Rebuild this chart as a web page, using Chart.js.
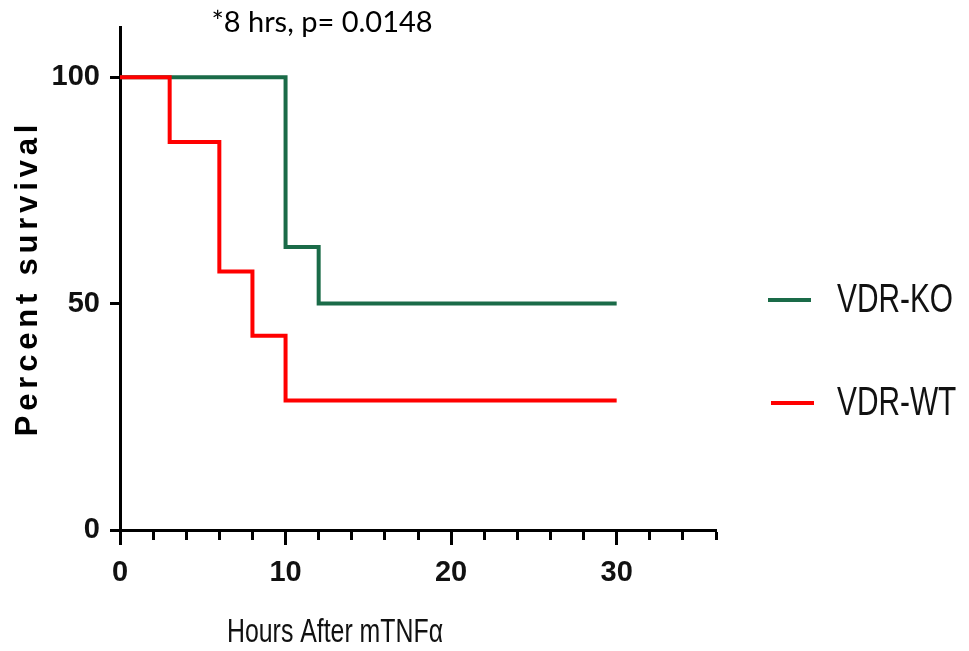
<!DOCTYPE html>
<html>
<head>
<meta charset="utf-8">
<script src="https://cdn.jsdelivr.net/npm/chart.js@4.4.0/dist/chart.umd.min.js"></script>
<style>
  html, body { margin: 0; padding: 0; background: #fff; }
  #wrap { width: 969px; height: 651px; }
</style>
</head>
<body>
<div id="wrap"><canvas id="kmChart" width="969" height="651"></canvas></div>
<script>
// Kaplan-Meier steps (hours, percent surviving)
const koHours = [0, 10, 12, 30];
const koSurvival = [100, 62.5, 50, 50];
const wtHours = [0, 3, 6, 8, 10, 30];
const wtSurvival = [100, 85.7, 57.1, 42.9, 28.6, 28.6];
const seriesNames = ['VDR-KO', 'VDR-WT'];
const xTicks = [0, 10, 20, 30];
const yTicks = [0, 50, 100];
const chartTitle = '*8 hrs, p= 0.0148';
const xTitle = 'Hours After mTNF\u03b1';
const yTitle = 'Percent survival';

const GREEN = '#1a6b48';
const RED = '#ff0000';

const ctx = document.getElementById('kmChart').getContext('2d');

// use a narrow face if one is installed
function hasFont(name) {
    ctx.font = "bold 40px '" + name + "', monospace";
    const a = ctx.measureText('VDR-KO 0123456789').width;
    ctx.font = 'bold 40px monospace';
    const b = ctx.measureText('VDR-KO 0123456789').width;
    return a !== b;
}
let tickFamily = "'Liberation Sans', Arial, sans-serif";
let tickSize = 29;
if (hasFont('Liberation Sans Narrow')) {
    tickFamily = "'Liberation Sans Narrow', sans-serif"; tickSize = 31;
}

function toPoints(xs, ys) {
    return xs.map((h, i) => ({ x: h, y: ys[i] }));
}

function align3(p) {
    return Math.round(p - 1.5) + 1.5;
}

// text squeezed to a given width, like the narrow face in the original
function narrowText(c, text, x, y, size, width, align) {
    c.save();
    c.font = size + "px 'Liberation Sans', Arial, sans-serif";
    const w = c.measureText(text).width;
    c.translate(x, y);
    c.scale(width / w, 1);
    c.textAlign = align;
    c.fillText(text, 0, 0);
    c.restore();
}

// extra text and the longer major ticks
const annotate = {
    id: 'annotate',
    afterDraw(chart) {
        const c = chart.ctx;
        const xs = chart.scales.x;
        const area = chart.chartArea;
        c.save();

        c.strokeStyle = '#000';
        c.lineWidth = 3;
        xTicks.forEach(v => {
            const px = align3(xs.getPixelForValue(v));
            c.beginPath();
            c.moveTo(px, area.bottom);
            c.lineTo(px, area.bottom + 15);
            c.stroke();
        });

        c.fillStyle = '#000';
        c.textBaseline = 'alphabetic';

        // title
        c.textAlign = 'center';
        c.font = "29px Lato, 'Open Sans', sans-serif";
        c.fillText(chartTitle, 322, 32);

        // x title
        c.fillStyle = '#111';
        narrowText(c, xTitle, 335, 642, 34, 216, 'center');

        // y title
        c.save();
        c.translate(37, 280);
        c.rotate(-Math.PI / 2);
        c.font = "bold 31px 'Liberation Sans', Arial, sans-serif";
        c.letterSpacing = '4.8px';
        c.fillStyle = '#000';
        c.textAlign = 'center';
        c.fillText(yTitle, 2, 0);
        c.restore();

        // legend
        const rows = [{ y: 300, base: 312, x0: 768 }, { y: 403, base: 415, x0: 771 }];
        c.font = "40px 'Liberation Sans', Arial, sans-serif";
        const k = 116 / c.measureText(seriesNames[0]).width;
        chart.data.datasets.forEach((ds, i) => {
            const r = rows[i];
            c.strokeStyle = ds.borderColor;
            c.lineWidth = 4;
            c.beginPath();
            c.moveTo(r.x0, r.y);
            c.lineTo(r.x0 + 43, r.y);
            c.stroke();
            c.save();
            c.fillStyle = '#111';
            c.textAlign = 'left';
            c.font = "40px 'Liberation Sans', Arial, sans-serif";
            c.translate(837, r.base);
            c.scale(k, 1);
            c.fillText(ds.label, 0, 0);
            c.restore();
        });
        c.restore();
    }
};

new Chart(ctx, {
    type: 'line',
    data: {
        datasets: [
            {
                label: seriesNames[0],
                data: toPoints(koHours, koSurvival),
                borderColor: GREEN,
                borderWidth: 4,
                stepped: 'before',
                pointRadius: 0,
                fill: false,
                order: 1
            },
            {
                label: seriesNames[1],
                data: toPoints(wtHours, wtSurvival),
                borderColor: RED,
                borderWidth: 4,
                stepped: 'before',
                pointRadius: 0,
                fill: false,
                order: 0
            }
        ]
    },
    options: {
        responsive: false,
        animation: false,
        layout: { padding: { left: 0, top: 27, right: 253, bottom: 0 } },
        plugins: {
            legend: { display: false },
            tooltip: { enabled: false },
            title: { display: false }
        },
        scales: {
            x: {
                type: 'linear',
                min: 0,
                max: 36,
                afterFit: s => { s.height = 121; },
                border: { display: true, color: '#000', width: 3 },
                grid: { display: true, drawOnChartArea: false, drawTicks: true, tickLength: 10, tickWidth: 3, tickColor: '#000' },
                ticks: {
                    stepSize: 2,
                    autoSkip: false,
                    maxRotation: 0,
                    padding: 16,
                    color: '#111',
                    font: { family: tickFamily, size: tickSize, weight: 'bold' },
                    callback: v => (xTicks.includes(v) ? String(v) : '')
                }
            },
            y: {
                min: 0,
                max: 111,
                afterFit: s => { s.width = 120; },
                afterBuildTicks: s => { s.ticks = yTicks.map(v => ({ value: v })); },
                border: { display: true, color: '#000', width: 3 },
                grid: { display: true, drawOnChartArea: false, drawTicks: true, tickLength: 10, tickWidth: 3, tickColor: '#000' },
                ticks: {
                    padding: 10,
                    color: '#111',
                    font: { family: tickFamily, size: tickSize, weight: 'bold' }
                }
            }
        }
    },
    plugins: [annotate]
});
</script>
</body>
</html>
